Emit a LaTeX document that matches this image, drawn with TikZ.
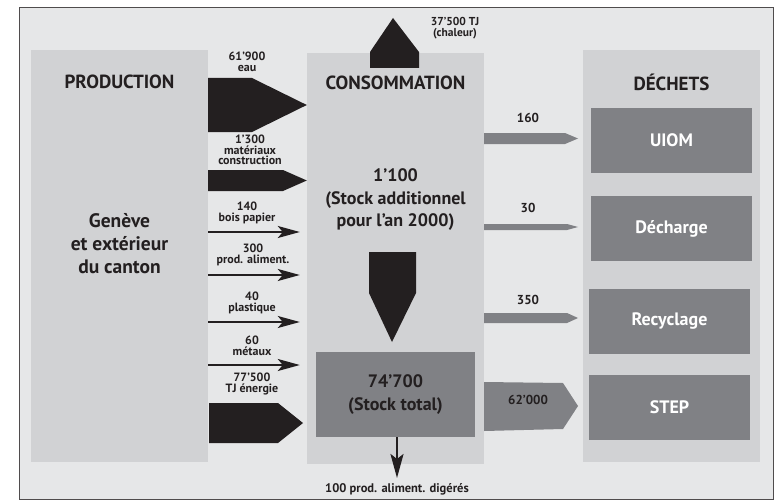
\documentclass[tikz,border=0pt]{standalone}
\usepackage{fontspec}
\setmainfont{PT Sans}
\usetikzlibrary{arrows.meta, positioning, calc}
\definecolor{bgfill}{HTML}{E6E7E8}
\definecolor{boxlight}{HTML}{D1D2D4}
\definecolor{boxdark}{HTML}{808185}
\definecolor{ink}{HTML}{231F20}

\tikzset{
  lightbox/.style={fill=boxlight, inner sep=0pt},
  darkbox/.style={fill=boxdark, inner sep=0pt, text=white, font=\bfseries\fontsize{18}{19}\selectfont},
  boxtitle/.style={font=\bfseries\fontsize{19}{20}\selectfont, text=ink},
  bigtext/.style={font=\bfseries\fontsize{19.5}{23}\selectfont, align=center, text=ink},
  flowlabel/.style={font=\bfseries\fontsize{12}{10.5}\selectfont, align=center, text=ink, inner sep=0pt},
  thinflow/.style={draw=ink, line width=2pt, shorten >=7pt, -{Stealth[length=22pt, width=12pt, inset=5pt]}},
}

\begin{document}
\begin{tikzpicture}[x=1pt, y=-1pt]
    \useasboundingbox (0,0) rectangle (775,500);
    % frame
    \draw[fill=bgfill, draw=ink!80, line width=0.8pt] (19,7) rectangle (773,499);

    % three main columns
    \node[lightbox, minimum width=177pt, minimum height=412pt] (prod) at (119.5,256) {};
    \node[lightbox, minimum width=177pt, minimum height=411pt] (cons) at (395.5,258.5) {};
    \node[lightbox, minimum width=177pt, minimum height=412pt] (dech) at (671.5,256) {};

    % heat out of consumption
    \fill[ink] (370,68) -- (370,52) -- (393,18) -- (419,52) -- (419,68) -- cycle;
    \node[flowlabel, font=\bfseries\fontsize{11.5}{10.5}\selectfont] (l-chaleur) at (455,28) {37’500 TJ\\(chaleur)};

    % titles
    \node[boxtitle] (t-prod) at (119.5,82) {PRODUCTION};
    \node[boxtitle] (t-cons) at (395.5,83) {CONSOMMATION};
    \node[boxtitle] (t-dech) at (671.5,82) {DÉCHETS};

    \node[bigtext] (t-geneve) at (119.5,244) {Genève\\et extérieur\\du canton};
    \node[bigtext, font=\bfseries\fontsize{18}{22.5}\selectfont] (t-add) at (395.5,200) {1’100\\(Stock additionnel\\pour l’an 2000)};

    % stock
    \fill[ink] (369,252) -- (416,252) -- (416,293) -- (392,342) -- (369,293) -- cycle;
    \node[darkbox, minimum width=159pt, minimum height=85pt, text=ink, align=center,
          font=\bfseries\fontsize{18}{22.5}\selectfont] (stock) at (395.5,394.5) {74’700\\(Stock total)};

    % waste boxes
    \node[darkbox, minimum width=161pt, minimum height=65pt] (uiom) at (671.5,140.5) {UIOM};
    \node[darkbox, minimum width=161pt, minimum height=65pt] (decharge) at (671.5,228.5) {Décharge};
    \node[darkbox, minimum width=161pt, minimum height=65pt] (recyclage) at (669.5,321.5) {Recyclage};
    \node[darkbox, minimum width=161pt, minimum height=65pt] (step) at (669.5,407.5) {STEP};

    % inputs
    \fill[ink] (prod.east |- 0,78) -- (252,78) -- (cons.west |- 0,105) -- (252,132) -- (prod.east |- 0,132) -- cycle;
    \node[flowlabel] (l-eau) at (247,62) {61’900\\eau};
    \fill[ink] (prod.east |- 0,170) -- (283,170) -- (cons.west |- 0,180.5) -- (283,191) -- (prod.east |- 0,191) -- cycle;
    \node[flowlabel] (l-mat) at (250,150) {1’300\\matériaux\\construction};
    \draw[thinflow] (prod.east |- 0,232) -- (cons.west |- 0,232);
    \node[flowlabel] (l-bois) at (247,213) {140\\bois papier};
    \draw[thinflow] (prod.east |- 0,275) -- (cons.west |- 0,275);
    \node[flowlabel] (l-alim) at (253,255) {300\\prod. aliment.};
    \draw[thinflow, line width=1.5pt] (prod.east |- 0,322) -- (cons.west |- 0,322);
    \node[flowlabel] (l-plast) at (252,303) {40\\plastique};
    \draw[thinflow] (prod.east |- 0,365) -- (cons.west |- 0,365);
    \node[flowlabel] (l-met) at (252,346) {60\\métaux};
    \fill[ink] (209,403) -- (278,403) -- (303,423) -- (278,443) -- (209,443) -- cycle;
    \node[flowlabel] (l-energie) at (252,384) {77’500\\TJ énergie};

    % outputs to waste
    \fill[boxdark] (cons.east |- 0,133) -- (565,133) -- (578,138.5) -- (565,144) -- (cons.east |- 0,144) -- cycle;
    \node[flowlabel, font=\bfseries\fontsize{13}{13}\selectfont] (l-uiom) at (528,118) {160};
    \fill[boxdark] (cons.east |- 0,224) -- (567,224) -- (578,227) -- (567,230) -- (cons.east |- 0,230) -- cycle;
    \node[flowlabel, font=\bfseries\fontsize{13}{13}\selectfont] (l-decharge) at (528,208) {30};
    \fill[boxdark] (cons.east |- 0,313) -- (567,313) -- (578,318) -- (567,323) -- (cons.east |- 0,323) -- cycle;
    \node[flowlabel, font=\bfseries\fontsize{13}{13}\selectfont] (l-recyclage) at (528,300) {350};
    \fill[boxdark] (cons.east |- 0,382) -- (563,383) -- (578,406) -- (563,429) -- (cons.east |- 0,431) -- cycle;
    \node[flowlabel, font=\bfseries\fontsize{13}{13}\selectfont] (l-step) at (528,400) {62’000};

    % digested food
    \coordinate (digest) at (397,478);
    \draw[draw=ink, line width=2.5pt, -{Stealth[length=24pt, width=13pt, inset=5pt]}] (stock.south -| digest) -- (digest);
    \node[flowlabel, font=\bfseries\fontsize{12.5}{12.5}\selectfont] (l-digest) at (397,489) {100 prod. aliment. digérés};
\end{tikzpicture}
\end{document}
